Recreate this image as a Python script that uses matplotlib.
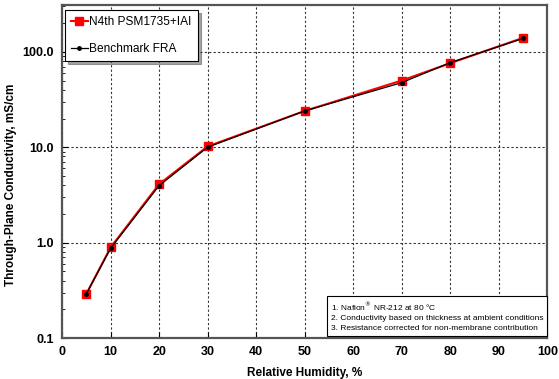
import matplotlib.pyplot as plt
from matplotlib.ticker import FixedLocator, LogLocator, NullFormatter, FixedFormatter

plt.rcParams['font.family'] = ['Liberation Sans', 'DejaVu Sans']

rh = [5, 10, 20, 30, 50, 70, 80, 95]
n4th = [0.29, 0.89, 4.1, 10.2, 24.0, 50.0, 76.0, 140.0]
bench = [0.29, 0.87, 3.95, 10.0, 24.0, 47.5, 77.0, 138.0]

yticks = [0.1, 1.0, 10.0, 100.0]
ylabels = ['0.1', '1.0', '10.0', '100.0']
xticks = list(range(0, 101, 10))

fig = plt.figure(figsize=(5.59, 3.79), dpi=100)
ax = fig.add_axes([0.111, 0.108, 0.868, 0.879])

ax.plot(rh, n4th, color='#ff0000', marker='s', markersize=6, linewidth=1.5,
        label='N4th PSM1735+IAI', zorder=3)
ax.plot(rh, bench, color='black', marker='o', markersize=2.5, linewidth=0.9,
        label='Benchmark FRA', zorder=4)

ax.set_yscale('log')
ax.set_ylim(0.1, 310)
ax.set_xlim(0, 100)
ax.yaxis.set_major_locator(FixedLocator(yticks))
ax.yaxis.set_major_formatter(FixedFormatter(ylabels))
ax.yaxis.set_minor_locator(LogLocator(base=10, subs=range(2, 10)))
ax.yaxis.set_minor_formatter(NullFormatter())
ax.set_xticks(xticks)

ax.grid(True, which='major', linestyle=(0, (2, 2)), color='#333333', linewidth=0.8)
ax.tick_params(axis='both', which='major', direction='in', length=4, labelsize=9, pad=6)
ax.tick_params(axis='y', which='minor', direction='in', length=2.5)
for lab in ax.get_xticklabels() + ax.get_yticklabels():
    lab.set_fontweight('bold')

for sp in ax.spines.values():
    sp.set_color('#555555')
    sp.set_linewidth(1.6)

ax.set_xlabel('Relative Humidity, %', fontsize=8.5, fontweight='bold', labelpad=6)
ax.set_ylabel('Through-Plane Conductivity, mS/cm', fontsize=8.5, fontweight='bold')
ax.yaxis.set_label_coords(-0.093, 0.46)

leg = ax.legend(loc='upper left', bbox_to_anchor=(0.006, 0.985), borderaxespad=0,
                fontsize=8.6, fancybox=False, shadow=True, framealpha=1,
                edgecolor='black', handlelength=1.4, handletextpad=0.15,
                borderpad=0.5, labelspacing=1.3)
leg.get_frame().set_linewidth(0.8)

note = ('1. Nafion$^{\\circledR}$ NR-212 at 80 \u00b0C\n'
        '2. Conductivity based on thickness at ambient conditions\n'
        '3. Resistance corrected for non-membrane contribution')
ax.text(0.992, 0.018, note, transform=ax.transAxes, fontsize=6.0,
        va='bottom', ha='right', multialignment='left', linespacing=1.55,
        bbox=dict(boxstyle='square,pad=0.45', facecolor='white', edgecolor='black',
                  linewidth=0.8),
        zorder=5)

fig.savefig('out.png', dpi=100)
